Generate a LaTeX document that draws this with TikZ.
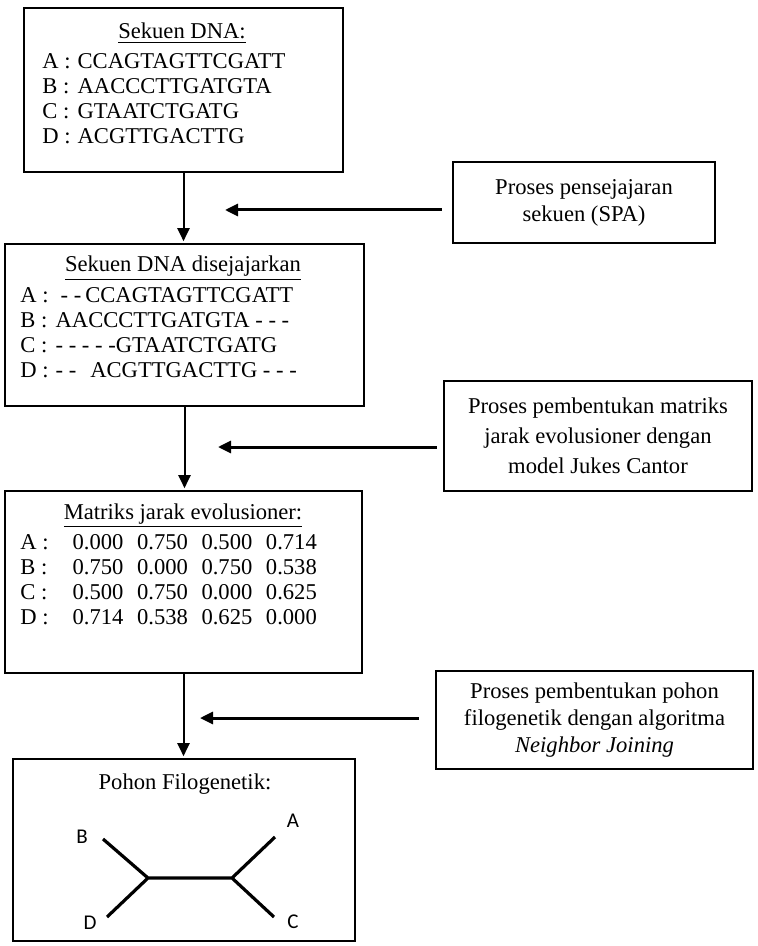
\documentclass[tikz,border=0pt]{standalone}
\usepackage{fontspec}
\setmainfont{Liberation Serif}
\newfontfamily\treefont{Carlito}
\usetikzlibrary{arrows.meta,positioning}

\begin{document}
\begin{tikzpicture}[x=0.5pt,y=-0.5pt,>={Triangle[length=6.5pt,width=6pt]},
                    font=\fontsize{11.3}{12.4}\selectfont]
  \tikzstyle{bigbox}=[draw,line width=1.4pt,inner sep=0pt]
  \tikzstyle{sidebox}=[draw,line width=1.4pt,align=center,inner sep=0pt,
                       font=\fontsize{11.3}{13.5}\selectfont]
  \tikzstyle{flow}=[->,line width=1pt,shorten >=0.7pt]
  \tikzstyle{feed}=[->,line width=1.5pt]
  \tikzstyle{rows}=[anchor=base west,inner sep=0pt]
  \tikzstyle{title}=[anchor=base,inner sep=0pt]
  \tikzstyle{leaf}=[inner sep=0pt,font=\treefont\fontsize{10.5}{12}\selectfont]
  \tikzstyle{branch}=[line width=1.6pt]

  \useasboundingbox (0,0) rectangle (757,946);

  % main column
  \node[bigbox,minimum width=159.5pt,minimum height=82pt]   (dna) at (183.5,90)  {};
  \node[bigbox,minimum width=179.5pt,minimum height=81pt]   (aln) at (184.5,325) {};
  \node[bigbox,minimum width=178.5pt,minimum height=91pt]   (mat) at (183.5,582) {};
  \node[bigbox,minimum width=171pt,minimum height=91pt]     (tree) at (184,850)  {};

  \node[title] (dnahead) at (182,39) {\underline{Sekuen DNA:}};
  \node[rows]  (dnarows) at (42,69) {\begin{tabular}[t]{@{}l@{\hspace{3.5pt}}l@{}}
      A : & CCAGTAGTTCGATT\\
      B : & AACCCTTGATGTA\\
      C : & GTAATCTGATG\\
      D : & ACGTTGACTTG
    \end{tabular}};

  \node[title] (alnhead) at (183,272) {\underline{Sekuen DNA disejajarkan}};
  \node[rows,font=\fontsize{11.3}{12.6}\selectfont] (alnrows) at (20,302)
    {\begin{tabular}[t]{@{}l@{\hspace{3.5pt}}l@{}}
      A : & \hspace{2.5pt}- -\hspace{2pt}CCAGTAGTTCGATT\\
      B : & AACCCTTGATGTA - - -\\
      C : & - - - - -GTAATCTGATG\\
      D : & - -\hspace{7pt}ACGTTGACTTG - - -
    \end{tabular}};

  \node[title] (mathead) at (183,519) {\underline{Matriks jarak evolusioner:}};
  \node[rows,font=\fontsize{11.3}{12.6}\selectfont] (matrows) at (20,549)
    {\begin{tabular}[t]{@{}l@{\hspace{12pt}}l@{\hspace{6.8pt}}l@{\hspace{6.8pt}}l@{\hspace{6.8pt}}l@{}}
      A : & 0.000 & 0.750 & 0.500 & 0.714\\
      B : & 0.750 & 0.000 & 0.750 & 0.538\\
      C : & 0.500 & 0.750 & 0.000 & 0.625\\
      D : & 0.714 & 0.538 & 0.625 & 0.000
    \end{tabular}};

  \node[title] (treehead) at (185,789) {Pohon Filogenetik:};

  % tree
  \coordinate (jl) at (148,878);
  \coordinate (jr) at (232,878);
  \coordinate (eb) at (103,839);
  \coordinate (ed) at (107,917);
  \coordinate (ea) at (275,837);
  \coordinate (ec) at (274,917);
  \node[leaf] (B) at (82,837)  {B};
  \node[leaf] (D) at (90,923)  {D};
  \node[leaf] (A) at (293,821) {A};
  \node[leaf] (C) at (293,922) {C};
  \draw[branch] (eb) -- (jl) -- (ed) (jl) -- (jr) (ea) -- (jr) -- (ec);

  % process boxes
  \node[sidebox,minimum width=131pt,minimum height=40.5pt] (spa) at (584,202.5)
       {Proses pensejajaran\\sekuen (SPA)};
  \node[sidebox,minimum width=154pt,minimum height=55pt,
        font=\fontsize{11.3}{15}\selectfont] (jc) at (598,436)
       {Proses pembentukan matriks\\jarak evolusioner dengan\\model Jukes Cantor};
  \node[sidebox,minimum width=158.5pt,minimum height=49pt] (nj) at (594.5,720)
       {Proses pembentukan pohon\\filogenetik dengan algoritma\\\textit{Neighbor Joining}};

  % connectors
  \draw[flow] (dna.south) -- (dna.south |- aln.north);
  \draw[flow] (aln.south) -- (aln.south |- mat.north);
  \draw[flow] (mat.south) -- (mat.south |- tree.north);

  \coordinate (p1) at (225,210);
  \coordinate (p2) at (218,447);
  \coordinate (p3) at (200,718);
  \draw[feed,shorten <=5pt] (p1 -| spa.west) -- (p1);
  \draw[feed,shorten <=3pt] (p2 -| jc.west) -- (p2);
  \draw[feed,shorten <=8pt] (p3 -| nj.west) -- (p3);
\end{tikzpicture}
\end{document}
